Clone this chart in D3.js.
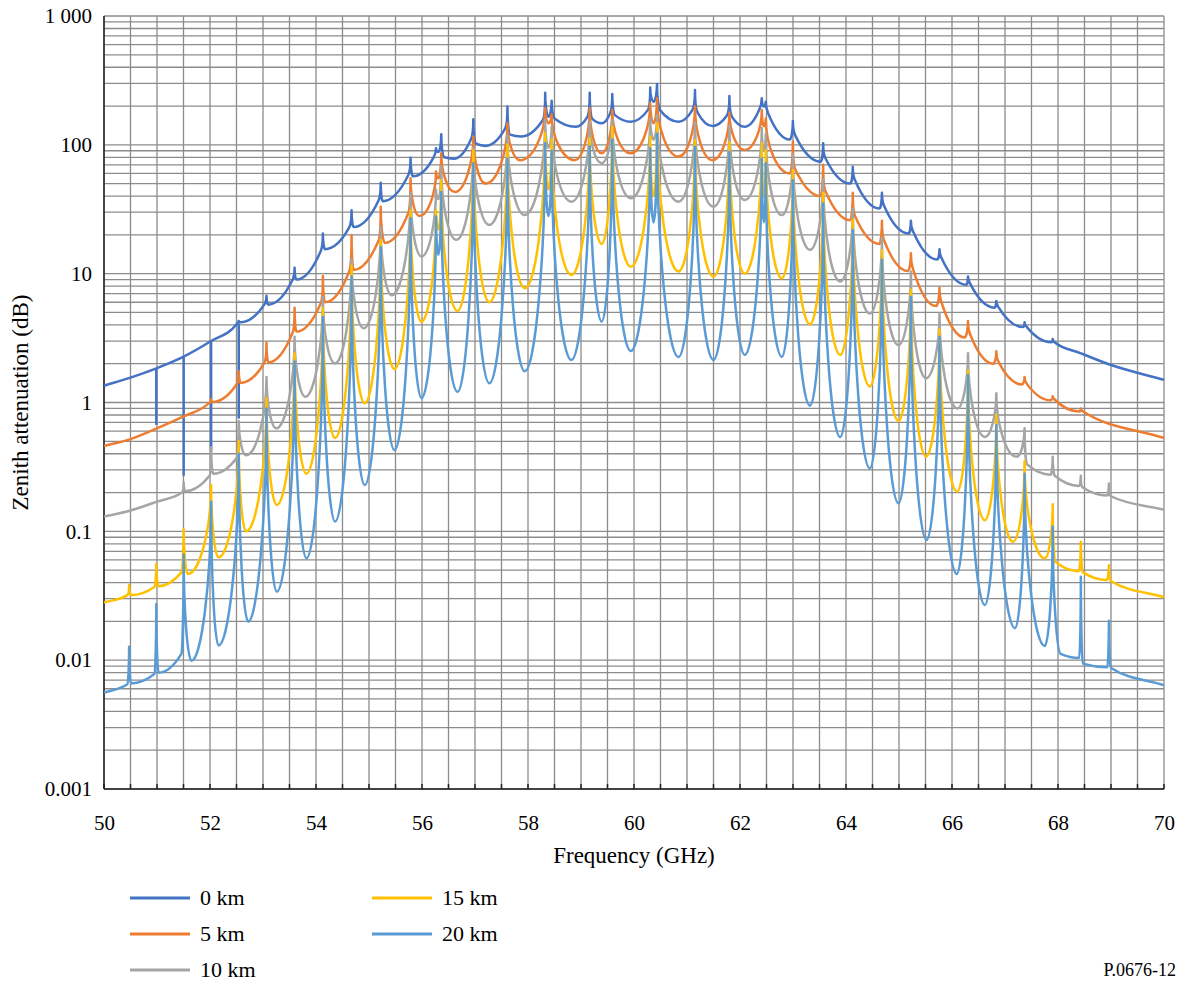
<!DOCTYPE html>
<html>
<head>
<meta charset="utf-8">
<script src="https://cdn.jsdelivr.net/npm/d3@7"></script>
<style>
  body { margin: 0; background: #fff; }
  text { font-family: "Liberation Serif", "Times New Roman", serif; fill: #000; }
</style>
</head>
<body>
<svg id="chart" width="1187" height="985"></svg>
<script>
// ---- data (GHz, dB) ----
const freqTicks = [50, 52, 54, 56, 58, 60, 62, 64, 66, 68, 70];
const attTicks = [1000, 100, 10, 1, 0.1, 0.01, 0.001];
const attLabels = ["1 000", "100", "10", "1", "0.1", "0.01", "0.001"];
const names = ["0 km", "5 km", "10 km", "15 km", "20 km"];

const km0 = [[50,1.35],[50.5,1.56],[50.987,1.84],[51.503,2.27],[52.021,3.0],[52.5,4.05],[52.542,4.3],[52.58,4.2],
  [53.03,5.8],[53.066,6.75],[53.1,5.75],[53.56,9.0],[53.596,11.1],[53.63,9.0],[54.09,15.0],[54.13,20.5],[54.17,15.5],
  [54.63,23],[54.671,31],[54.71,23],[55.18,37],[55.221,50.8],[55.26,36.5],[55.74,58],[55.784,79.5],[55.83,57],
  [56.22,80],[56.264,94],[56.31,88],[56.363,121],[56.42,80],[56.6,78],[56.93,112],[56.968,158],[57.02,102],[57.2,98],
  [57.57,134],[57.612,198],[57.66,120],[57.87,116],[58.28,156],[58.324,254],[58.385,165],[58.446,220],[58.5,160],
  [58.9,138],[59.12,165],[59.164,254],[59.21,160],[59.39,147],[59.55,176],[59.59,248],[59.64,170],[59.94,151],
  [60.26,186],[60.306,279],[60.37,216],[60.434,297],[60.49,186],[60.84,151],[61.1,186],[61.151,267],[61.2,178],
  [61.48,140],[61.75,168],[61.8,239],[61.85,165],[62.09,138],[62.36,186],[62.411,230],[62.45,198],[62.486,216],
  [62.53,176],[62.94,110],[62.998,153],[63.04,119],[63.52,74],[63.569,103],[63.61,79],[64.08,50],[64.128,67.6],
  [64.17,53],[64.63,32],[64.678,42.4],[64.72,33.5],[65.18,20.5],[65.224,25.8],[65.26,21.5],[65.72,12.9],[65.764,15.5],
  [65.8,13.3],[66.27,8.2],[66.302,9.5],[66.34,8.4],[66.8,5.45],[66.836,6.14],[66.87,5.55],[67.34,3.85],[67.369,4.19],
  [67.4,3.9],[67.87,2.93],[67.9,3.11],[67.93,2.95],[68.431,2.41],[68.96,1.98],[70,1.5]];
// downward glitches of the 0 km curve: [frequency, from, to]
const km0Dips = [[50.987,1.84,0.67],[51.503,2.27,0.27],[52.021,3.0,0.42],[52.542,4.1,0.75]];

const km5 = [[50,0.46],[50.5,0.52],[51.0,0.63],[51.5,0.78],[51.99,1.0],[52.021,1.06],[52.05,1.01],[52.5,1.38],
  [52.542,1.75],[52.58,1.42],[53.03,2.05],[53.066,2.92],[53.1,2.05],[53.56,3.5],[53.596,5.45],[53.63,3.55],[54.09,5.9],
  [54.13,9.6],[54.17,6.0],[54.63,10.5],[54.671,20],[54.71,10.7],[55.18,18],[55.221,33],[55.3,17.3],[55.74,29.4],
  [55.784,55],[55.95,28],[56.264,62],[56.31,55],[56.363,86],[56.62,43],[56.968,116],[57.2,50],[57.612,147],[57.85,76],
  [58.324,192],[58.385,147],[58.446,172],[58.88,76],[59.164,192],[59.39,86],[59.59,186],[59.93,86],[60.306,210],
  [60.37,147],[60.434,230],[60.84,81],[61.151,198],[61.48,76],[61.8,178],[62.09,91],[62.411,186],[62.45,140],
  [62.486,160],[62.94,60],[62.998,106],[63.04,65],[63.52,40],[63.569,70],[63.61,44],[64.08,26],[64.128,42.4],
  [64.17,28],[64.63,17],[64.678,25.8],[64.72,18],[65.17,10.5],[65.224,14.4],[65.26,11],[65.7,5.6],[65.764,7.8],
  [65.8,6.0],[66.24,3.2],[66.302,4.3],[66.34,3.4],[66.78,2.0],[66.836,2.5],[66.87,2.1],[67.32,1.38],[67.369,1.58],
  [67.4,1.42],[67.86,1.04],[67.9,1.12],[67.93,1.06],[68.4,0.85],[68.431,0.9],[68.46,0.86],[70,0.53]];

const km10 = [[50,0.13],[50.5,0.145],[51.0,0.17],[51.47,0.2],[51.503,0.24],[51.53,0.205],[51.99,0.27],[52.021,0.45],
  [52.06,0.28],[52.5,0.37],[52.542,0.72],[52.68,0.39],[53.066,1.58],[53.25,0.63],[53.596,3.24],[53.8,1.11],[54.13,6.6],
  [54.36,2.01],[54.671,13],[54.9,3.77],[55.221,23],[55.43,6.8],[55.784,42],[55.99,13.6],[56.264,45],[56.31,38],
  [56.363,68],[56.65,18.3],[56.968,95],[57.27,23.9],[57.612,118],[57.94,28.5],[58.324,156],[58.385,95],[58.446,138],
  [58.82,36.2],[59.164,151],[59.39,72],[59.59,156],[59.94,38.5],[60.306,160],[60.37,110],[60.434,170],[60.84,36.2],
  [61.151,150],[61.5,33.1],[61.8,140],[62.09,37.3],[62.411,135],[62.45,90],[62.486,122],[62.79,28.5],[62.998,84],
  [63.32,15.3],[63.569,54],[63.89,8.7],[64.128,32],[64.45,4.9],[64.678,19],[64.99,2.79],[65.224,10.4],[65.51,1.54],
  [65.764,4.9],[66.1,0.9],[66.302,2.41],[66.62,0.54],[66.836,1.18],[67.22,0.38],[67.369,0.63],[67.42,0.33],
  [67.86,0.275],[67.9,0.38],[67.94,0.27],[68.4,0.225],[68.431,0.27],[68.46,0.22],[68.93,0.19],[68.96,0.235],
  [68.99,0.188],[70,0.147]];

const km15 = [[50,0.028],[50.44,0.032],[50.474,0.0383],[50.51,0.032],[50.95,0.037],[50.987,0.056],[51.03,0.0375],
  [51.46,0.048],[51.503,0.104],[51.58,0.0467],[52.021,0.23],[52.16,0.0628],[52.542,0.5],[52.68,0.1],[53.066,1.08],
  [53.26,0.16],[53.596,2.4],[53.82,0.28],[54.13,5.4],[54.36,0.53],[54.671,11.5],[54.92,0.985],[55.221,18.3],
  [55.48,1.82],[55.784,31.2],[55.99,4.24],[56.264,31],[56.31,22],[56.363,53],[56.67,5.13],[56.968,91],[57.27,6.0],
  [57.612,100],[57.94,7.7],[58.324,123],[58.385,45],[58.446,110],[58.82,9.77],[59.164,113],[59.39,17],[59.59,138],
  [59.94,11.3],[60.306,116],[60.37,40],[60.434,147],[60.84,10.4],[61.151,109],[61.5,9.5],[61.8,105],[62.09,10.0],
  [62.411,103],[62.45,40],[62.486,91],[62.79,9.2],[62.998,63.6],[63.32,4.05],[63.569,42.2],[63.89,2.34],
  [64.128,26.1],[64.45,1.33],[64.678,15.2],[64.99,0.718],[65.224,7.5],[65.51,0.38],[65.764,3.7],[66.1,0.203],
  [66.302,1.78],[66.62,0.122],[66.836,0.8],[67.15,0.083],[67.369,0.35],[67.75,0.0617],[67.9,0.162],[67.95,0.058],
  [68.39,0.049],[68.431,0.083],[68.47,0.048],[68.92,0.0419],[68.96,0.0545],[69.0,0.041],[70,0.0308]];

const km20 = [[50,0.0056],[50.44,0.0065],[50.474,0.0127],[50.51,0.0066],[50.95,0.0078],[50.987,0.0273],[51.03,0.008],
  [51.46,0.0112],[51.503,0.066],[51.65,0.0099],[52.021,0.17],[52.16,0.013],[52.542,0.4],[52.72,0.0199],[53.066,0.9],
  [53.26,0.034],[53.596,2.08],[53.82,0.0617],[54.13,4.6],[54.36,0.119],[54.671,9.5],[54.92,0.229],[55.221,16],
  [55.48,0.428],[55.784,26.9],[55.99,1.08],[56.264,27.8],[56.31,14],[56.363,43],[56.67,1.21],[56.968,72],[57.27,1.41],
  [57.612,78],[57.94,1.75],[58.324,103],[58.385,28],[58.446,90],[58.82,2.14],[59.164,97],[59.39,4.24],[59.59,110],
  [59.94,2.51],[60.306,94],[60.37,25],[60.434,122],[60.84,2.26],[61.151,96],[61.5,2.14],[61.8,88],[62.09,2.34],
  [62.411,78],[62.45,25],[62.486,72],[62.79,2.26],[62.998,53],[63.32,0.945],[63.569,35],[63.89,0.54],[64.128,21.8],
  [64.45,0.308],[64.678,12.8],[64.99,0.165],[65.224,6.6],[65.52,0.0857],[65.764,3.24],[66.09,0.0467],[66.302,1.63],
  [66.62,0.0268],[66.836,0.668],[67.19,0.0177],[67.369,0.28],[67.75,0.0129],[67.9,0.109],[68.05,0.0112],
  [68.4,0.0104],[68.431,0.0445],[68.47,0.0094],[68.93,0.0088],[68.96,0.0202],[69.0,0.0087],[70,0.0064]];

const series = [km0, km5, km10, km15, km20];
const colors = ["#4472C4", "#ED7D31", "#A5A5A5", "#FFC000", "#5B9BD5"];

// ---- layout ----
const svg = d3.select("#chart");
const plotL = 104, plotR = 1164, plotT = 16, plotB = 789;

const x = d3.scaleLinear().domain([50, 70]).range([plotL, plotR]);
const y = d3.scaleLog().domain([0.001, 1000]).range([plotB, plotT]);

// grid
const grid = svg.append("g").attr("stroke", "#8c8c8c").attr("stroke-width", 1.3);
grid.selectAll(".hg").data(y.ticks()).enter().append("line")
  .attr("x1", plotL).attr("x2", plotR)
  .attr("y1", d => y(d)).attr("y2", d => y(d));
grid.selectAll(".vg").data(d3.range(50, 70.01, 0.5)).enter().append("line")
  .attr("y1", plotT).attr("y2", plotB)
  .attr("x1", d => x(d)).attr("x2", d => x(d));

// axes frame
svg.append("line").attr("x1", plotL).attr("x2", plotL).attr("y1", plotT).attr("y2", plotB)
  .attr("stroke", "#222").attr("stroke-width", 1.5);
svg.append("line").attr("x1", plotL).attr("x2", plotR).attr("y1", plotB).attr("y2", plotB)
  .attr("stroke", "#222").attr("stroke-width", 1.5);
svg.append("g").selectAll("line").data(d3.range(50, 70.01, 0.5)).enter().append("line")
  .attr("x1", d => x(d)).attr("x2", d => x(d)).attr("y1", plotB).attr("y2", plotB - 5)
  .attr("stroke", "#222").attr("stroke-width", 1.5);

// tick labels
svg.append("g").attr("transform", `translate(0,${plotB + 26})`)
  .call(d3.axisBottom(x).tickValues(freqTicks).tickSize(0).tickPadding(0).tickFormat(d3.format("d")))
  .call(g => g.select(".domain").remove())
  .selectAll("text").style("font-size", "21px").style("font-family", "Liberation Serif");
svg.append("g").attr("transform", `translate(${plotL - 12},0)`)
  .call(d3.axisLeft(y).tickValues(attTicks).tickSize(0).tickPadding(0).tickFormat((d, i) => attLabels[i]))
  .call(g => g.select(".domain").remove())
  .selectAll("text").style("font-size", "21px").style("font-family", "Liberation Serif");

svg.append("text").attr("x", (plotL + plotR) / 2).attr("y", 863)
  .attr("text-anchor", "middle").style("font-size", "23px").text("Frequency (GHz)");
svg.append("text").attr("transform", `translate(28,${(plotT + plotB) / 2}) rotate(-90)`)
  .attr("text-anchor", "middle").style("font-size", "23px").text("Zenith attenuation (dB)");
svg.append("text").attr("x", 1176).attr("y", 976).attr("text-anchor", "end")
  .style("font-size", "18px").text("P.0676-12");

// curve: local maxima (line centres) become sharp cusps, the rest follows a monotone cubic
function CuspCurve(context) { this._context = context; }
CuspCurve.prototype = {
  areaStart() {}, areaEnd() {},
  lineStart() { this._pts = []; },
  point(px, py) { this._pts.push([+px, +py]); },
  lineEnd() {
    const p = this._pts, n = p.length, ctx = this._context;
    if (!n) return;
    const peak = p.map((d, i) => i > 0 && i < n - 1 && d[1] < p[i - 1][1] && d[1] < p[i + 1][1]);
    const slope = p.map((d, i) => {
      if (i === 0) return (p[1][1] - d[1]) / (p[1][0] - d[0]);
      if (i === n - 1) return (d[1] - p[i - 1][1]) / (d[0] - p[i - 1][0]);
      const h0 = d[0] - p[i - 1][0], h1 = p[i + 1][0] - d[0];
      const s0 = (d[1] - p[i - 1][1]) / h0, s1 = (p[i + 1][1] - d[1]) / h1;
      if (s0 * s1 <= 0) return 0;
      const q = (s0 * h1 + s1 * h0) / (h0 + h1);
      return Math.sign(s0) * Math.min(2 * Math.abs(s0), 2 * Math.abs(s1), Math.abs(q));
    });
    ctx.moveTo(p[0][0], p[0][1]);
    for (let i = 0; i < n - 1; i++) {
      const a = p[i], b = p[i + 1], dx = b[0] - a[0];
      const fa = peak[i + 1] ? 0.5 : 1 / 3, fb = peak[i] ? 0.5 : 1 / 3;
      const c1 = peak[i] ? [a[0], a[1] + 0.5 * (b[1] - a[1])] : [a[0] + fa * dx, a[1] + slope[i] * fa * dx];
      const c2 = peak[i + 1] ? [b[0], b[1] + 0.5 * (a[1] - b[1])] : [b[0] - fb * dx, b[1] - slope[i + 1] * fb * dx];
      ctx.bezierCurveTo(c1[0], c1[1], c2[0], c2[1], b[0], b[1]);
    }
  }
};
const curveCusp = context => new CuspCurve(context);

const line = d3.line().x(d => x(d[0])).y(d => y(d[1])).curve(curveCusp);

const plot = svg.append("g");
series.forEach((s, i) => {
  plot.append("path").datum(s)
    .attr("fill", "none").attr("stroke", colors[i]).attr("stroke-width", 2.5)
    .attr("stroke-linejoin", "round").attr("d", line);
  if (i === 0) {
    plot.selectAll(".dip").data(km0Dips).enter().append("line")
      .attr("x1", d => x(d[0])).attr("x2", d => x(d[0]))
      .attr("y1", d => y(d[1])).attr("y2", d => y(d[2]))
      .attr("stroke", colors[0]).attr("stroke-width", 2.5);
  }
});

// legend
const legend = svg.append("g");
names.forEach((name, i) => {
  const col = i < 3 ? 0 : 1, row = i < 3 ? i : i - 3;
  const lx = 130 + col * 242, ly = 898 + row * 36;
  legend.append("line").attr("x1", lx).attr("x2", lx + 60).attr("y1", ly).attr("y2", ly)
    .attr("stroke", colors[i]).attr("stroke-width", 2.8);
  legend.append("text").attr("x", lx + 70).attr("y", ly + 7).style("font-size", "22px").text(name);
});
</script>
</body>
</html>
